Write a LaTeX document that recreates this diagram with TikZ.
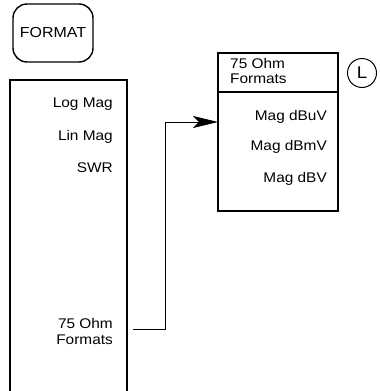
\documentclass[tikz,border=0pt]{standalone}
\usepackage{fontspec}
\setmainfont{Liberation Sans}[FakeStretch=1.1]
\usetikzlibrary{arrows.meta}
\tikzset{
  softkey/.style={anchor=base east, align=right, inner sep=0pt, font=\fontsize{14}{16}\selectfont},
  title/.style={anchor=base west, align=left, inner sep=0pt, font=\fontsize{14}{15}\selectfont},
  frame/.style={line width=1.6pt},
}
\begin{document}
\begin{tikzpicture}[x=1pt,y=-1pt]
                \useasboundingbox (0,0) rectangle (380,391);
                \node[draw,line width=1.4pt,rounded corners=14pt,minimum width=80pt,minimum height=58pt,font=\fontsize{14.5}{16}\selectfont] (fmt) at (53,33) {FORMAT};

                % left softkey menu, open at the bottom
                \coordinate (A) at (10, 391);
                \coordinate (B) at (10, 80);
                \coordinate (C) at (127, 80);
                \coordinate (D) at (127, 391);
                \draw[frame] (A) -- (B) -- (C) -- (D);
                \node[softkey] (logmag) at (113, 107) {Log Mag};
                \node[softkey] (linmag) at (113, 140) {Lin Mag};
                \node[softkey] (swr) at (113, 172) {SWR};
                \node[softkey,anchor=north east] (ohm) at (113, 318) {75 Ohm\\Formats};

                % 75 Ohm submenu
                \coordinate (P) at (218, 53);
                \coordinate (Q) at (338, 211);
                \draw[line width=1.2pt] (P) rectangle (Q);
                \draw[line width=1.2pt] (218, 92) -- (338, 92);
                \node[title,anchor=north west] (head) at (230, 58) {75 Ohm\\Formats};
                \node[softkey] (dbuv) at (327, 120) {Mag dBuV};
                \node[softkey] (dbmv) at (327, 150) {Mag dBmV};
                \node[softkey] (dbv) at (327, 182) {Mag dBV};
                \node[draw,circle,line width=1pt,minimum size=29pt,inner sep=0pt,font=\fontsize{17}{18}\selectfont] (lkey) at (362, 73) {L};

                \coordinate (S) at (133, 329);
                \coordinate (T) at (165, 329);
                \coordinate (U) at (165, 122);
                \coordinate (V) at (218, 122);
                \draw[line width=0.8pt,-{Stealth[length=25pt,width=12pt,inset=6pt]}] (S) -- (T) -- (U) -- (V);
            \end{tikzpicture}
\end{document}
